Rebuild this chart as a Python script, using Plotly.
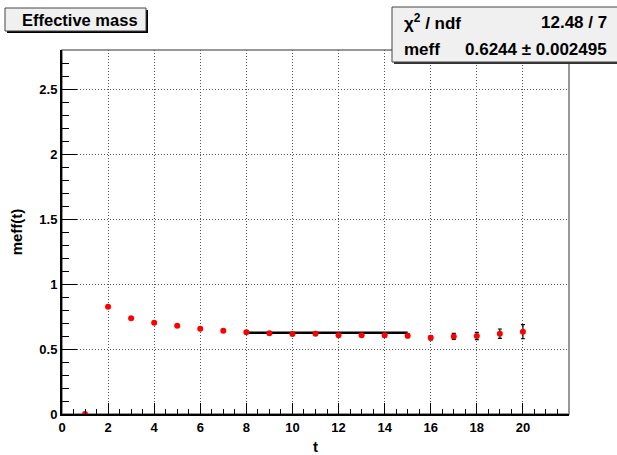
import plotly.graph_objects as go

# ---- data ----
t_vals = list(range(1, 21))
meff_vals = [0.0, 0.825, 0.736, 0.702, 0.679, 0.656, 0.641, 0.628, 0.621, 0.616,
             0.618, 0.605, 0.605, 0.605, 0.602, 0.587, 0.597, 0.600, 0.618, 0.633]
meff_err = [0.0, 0.001, 0.001, 0.001, 0.001, 0.002, 0.002, 0.003, 0.004, 0.005,
            0.006, 0.008, 0.010, 0.012, 0.014, 0.017, 0.023, 0.028, 0.036, 0.054]
fit_range = [8, 15]
fit_value = 0.6244
x_ticks = [0, 2, 4, 6, 8, 10, 12, 14, 16, 18, 20]
y_ticks = [0, 0.5, 1, 1.5, 2, 2.5]
title_text = "Effective mass"
stats_rows = [("χ<sup>2</sup> / ndf", "12.48 / 7"), ("meff", "0.6244 ± 0.002495")]

W, H = 617, 455
L, R, T, B = 62, 569, 50, 414
FONT = "Liberation Sans"


def px(p):
    return (p - L) / (R - L)


def py(p):
    return (B - p) / (B - T)


fig = go.Figure()

fig.add_trace(go.Scatter(
    x=fit_range, y=[fit_value, fit_value], mode="lines",
    line=dict(color="black", width=2.5), showlegend=False, hoverinfo="skip"))

fig.add_trace(go.Scatter(
    x=t_vals, y=meff_vals, mode="markers",
    marker=dict(color="red", size=6, symbol="circle"),
    error_y=dict(type="data", array=meff_err, visible=True, color="black",
                 thickness=1.2, width=2),
    showlegend=False))

axis_font = dict(family=FONT, size=13, color="black", weight="bold")
grid_dash = "1px,2px"

fig.update_xaxes(
    range=[0, 22], tickvals=x_ticks, ticktext=[str(v) for v in x_ticks],
    ticks="inside", ticklen=11, tickwidth=1, tickcolor="black",
    minor=dict(dtick=0.5, tick0=0, ticks="inside", ticklen=5, tickcolor="black",
               showgrid=False),
    showgrid=True, gridcolor="#555555", griddash=grid_dash, gridwidth=1,
    showline=True, linecolor="black", linewidth=2, zeroline=False,
    tickfont=axis_font, automargin=False,
    title=dict(text="t", font=dict(family=FONT, size=15, color="black", weight="bold"),
               standoff=14),
)
fig.update_yaxes(
    range=[0, 2.8], tickvals=y_ticks, ticktext=["0", "0.5", "1", "1.5", "2", "2.5"],
    ticks="inside", ticklen=15, tickwidth=1, tickcolor="black",
    minor=dict(dtick=0.1, tick0=0, ticks="inside", ticklen=7, tickcolor="black",
               showgrid=False),
    showgrid=True, gridcolor="#555555", griddash=grid_dash, gridwidth=1,
    showline=True, linecolor="black", linewidth=2, zeroline=False,
    tickfont=axis_font, automargin=False,
    title=dict(text="meff(t)", font=dict(family=FONT, size=15, color="black", weight="bold"),
               standoff=13),
)

shapes = []
# frame (top/right)
shapes.append(dict(type="rect", xref="paper", yref="paper", x0=0, x1=1, y0=0, y1=1,
                   line=dict(color="#777777", width=1.5), layer="below"))
# title box shadow + box
shapes.append(dict(type="rect", xref="paper", yref="paper",
                   x0=px(7), x1=px(148), y0=py(33), y1=py(10),
                   fillcolor="black", line=dict(width=0)))
shapes.append(dict(type="rect", xref="paper", yref="paper",
                   x0=px(5), x1=px(146), y0=py(31), y1=py(8),
                   fillcolor="#f0f0f0", line=dict(color="#444444", width=1)))
# stats box shadow + box
shapes.append(dict(type="rect", xref="paper", yref="paper",
                   x0=px(394), x1=px(622), y0=py(64), y1=py(9),
                   fillcolor="#333333", line=dict(width=0)))
shapes.append(dict(type="rect", xref="paper", yref="paper",
                   x0=px(392), x1=px(620), y0=py(62), y1=py(7),
                   fillcolor="#f0f0f0", line=dict(color="#444444", width=1)))

annotations = [
    dict(xref="paper", yref="paper", x=px(80), y=py(20), text=title_text,
         showarrow=False, xanchor="center", yanchor="middle",
         font=dict(family=FONT, size=16.5, color="black", weight="bold")),
]
row_y = [22, 49]
for (lab, val), yy in zip(stats_rows, row_y):
    annotations.append(dict(xref="paper", yref="paper", x=px(402), y=py(yy), text=lab,
                            showarrow=False, xanchor="left", yanchor="middle",
                            font=dict(family=FONT, size=17, color="black", weight="bold")))
    annotations.append(dict(xref="paper", yref="paper", x=px(609), y=py(yy), text=val,
                            showarrow=False, xanchor="right", yanchor="middle",
                            font=dict(family=FONT, size=17, color="black", weight="bold")))

fig.update_layout(
    width=W, height=H,
    margin=dict(l=L, r=W - R, t=T, b=H - B, pad=0, autoexpand=False),
    paper_bgcolor="white", plot_bgcolor="white",
    shapes=shapes, annotations=annotations,
    font=dict(family=FONT, color="black"),
)

fig.write_html("out.html")
